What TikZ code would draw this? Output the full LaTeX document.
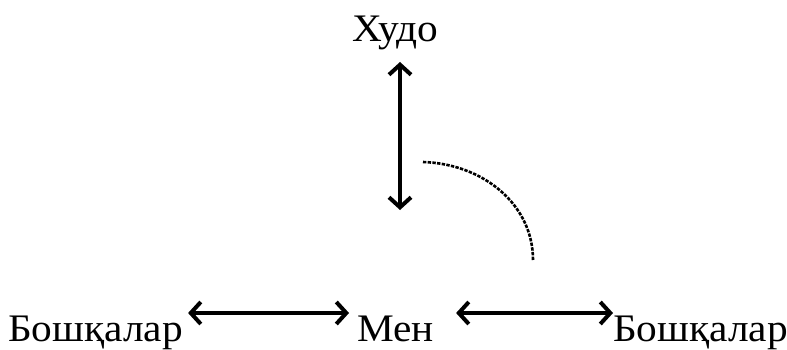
\documentclass[tikz,border=0pt]{standalone}
\usepackage{fontspec}
\setmainfont{Liberation Serif}[FakeStretch=1.06]
\usetikzlibrary{arrows.meta}
\begin{document}
\begin{tikzpicture}[x=1pt,y=-1pt,
  lbl/.style={inner sep=0pt,font=\fontsize{39}{42}\selectfont},
  barb/.tip={Straight Barb[length=10pt,width=22pt,line width=4pt]},
  arr/.style={line width=3.4pt,barb-barb},
  arc/.style={line width=2.6pt,dash pattern=on 3.4pt off 1.3pt}]
\useasboundingbox (0,0) rectangle (787,350);
\node[lbl,anchor=base] (hudo) at (395,42) {Худо};
\node[lbl,anchor=base west] (left) at (8,341) {Бошқалар};
\node[lbl,anchor=base west] (men) at (357,341) {Мен};
\node[lbl,anchor=base west] (right) at (613,341) {Бошқалар};
\coordinate (vtop) at (400,62);
\coordinate (vbot) at (400,210);
\draw[arr] (vtop) -- (vbot);
\draw[arr] ([xshift=5pt,yshift=28pt]left.base east) -- ([xshift=-8pt,yshift=28pt]men.base west);
\draw[arr] ([xshift=22pt,yshift=28pt]men.base east) -- ([xshift=0pt,yshift=28pt]right.base west);
\coordinate (a0) at (423,162);
\coordinate (a1) at (533,260);
\draw[arc] (a0) .. controls (484,164) and (533,205) .. (a1);
\end{tikzpicture}
\end{document}
